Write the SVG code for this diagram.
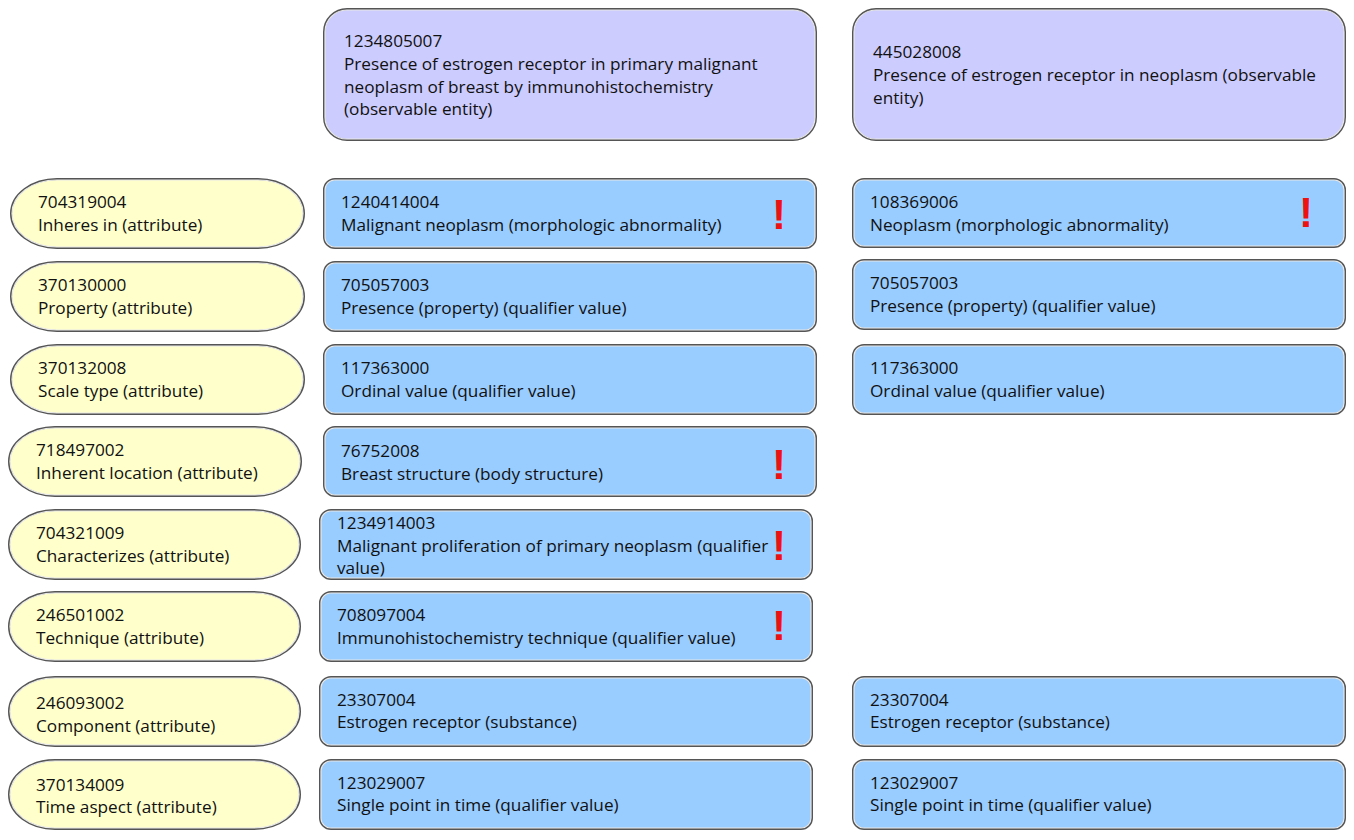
<svg xmlns="http://www.w3.org/2000/svg" width="1354" height="840" viewBox="0 0 1354 840">
<style>
text{font-family:"Open Sans","Liberation Sans",Arial,sans-serif;font-size:17.2px;fill:#111}
.o{stroke:#555;stroke-width:4}
.g{stroke:#e8e8e8;stroke-width:1.2}
.p{fill:#ccccff}.b{fill:#99ccff}.y{fill:#ffffcc}
.x{font-family:"Liberation Sans",Arial,sans-serif;font-size:42px;font-weight:bold;fill:#ee1111}
</style>
<rect width="1354" height="840" fill="#fff"/>
<g id="top1"><rect class="o p" x="325" y="10" width="490" height="129" rx="22"/><rect class="g p" x="325" y="10" width="490" height="129" rx="22"/>
<text x="344" y="47">1234805007</text><text x="344" y="70">Presence of estrogen receptor in primary malignant</text><text x="344" y="93">neoplasm of breast by immunohistochemistry</text><text x="344" y="115">(observable entity)</text></g>
<g id="top2"><rect class="o p" x="854" y="10" width="490" height="129" rx="22"/><rect class="g p" x="854" y="10" width="490" height="129" rx="22"/>
<text x="873" y="58">445028008</text><text x="873" y="81">Presence of estrogen receptor in neoplasm (observable</text><text x="873" y="104">entity)</text></g>

<g id="a1"><rect class="o y" x="12" y="180" width="291" height="67" rx="45" ry="33.5"/><rect class="g y" x="12" y="180" width="291" height="67" rx="45" ry="33.5"/><text x="38" y="208">704319004</text><text x="38" y="231">Inheres in (attribute)</text></g>
<g id="a2"><rect class="o y" x="12" y="263" width="291" height="67" rx="45" ry="33.5"/><rect class="g y" x="12" y="263" width="291" height="67" rx="45" ry="33.5"/><text x="38" y="291">370130000</text><text x="38" y="314">Property (attribute)</text></g>
<g id="a3"><rect class="o y" x="12" y="346" width="291" height="67" rx="45" ry="33.5"/><rect class="g y" x="12" y="346" width="291" height="67" rx="45" ry="33.5"/><text x="38" y="374">370132008</text><text x="38" y="397">Scale type (attribute)</text></g>
<g id="a4"><rect class="o y" x="10" y="428" width="290" height="67" rx="45" ry="33.5"/><rect class="g y" x="10" y="428" width="290" height="67" rx="45" ry="33.5"/><text x="36" y="456">718497002</text><text x="36" y="479">Inherent location (attribute)</text></g>
<g id="a5"><rect class="o y" x="10" y="511" width="289" height="67" rx="45" ry="33.5"/><rect class="g y" x="10" y="511" width="289" height="67" rx="45" ry="33.5"/><text x="36" y="539">704321009</text><text x="36" y="562">Characterizes (attribute)</text></g>
<g id="a6"><rect class="o y" x="10" y="593" width="289" height="67" rx="45" ry="33.5"/><rect class="g y" x="10" y="593" width="289" height="67" rx="45" ry="33.5"/><text x="36" y="621">246501002</text><text x="36" y="644">Technique (attribute)</text></g>
<g id="a7"><rect class="o y" x="10" y="678" width="289" height="67" rx="45" ry="33.5"/><rect class="g y" x="10" y="678" width="289" height="67" rx="45" ry="33.5"/><text x="36" y="709">246093002</text><text x="36" y="732">Component (attribute)</text></g>
<g id="a8"><rect class="o y" x="10" y="761" width="289" height="67" rx="45" ry="33.5"/><rect class="g y" x="10" y="761" width="289" height="67" rx="45" ry="33.5"/><text x="36" y="791">370134009</text><text x="36" y="813">Time aspect (attribute)</text></g>

<g id="b1"><rect class="o b" x="325" y="180" width="490" height="67" rx="10"/><rect class="g b" x="325" y="180" width="490" height="67" rx="10"/><text x="341" y="208">1240414004</text><text x="341" y="231">Malignant neoplasm (morphologic abnormality)</text><text class="x" x="779" y="229" text-anchor="middle">!</text></g>
<g id="b2"><rect class="o b" x="325" y="263" width="490" height="67" rx="10"/><rect class="g b" x="325" y="263" width="490" height="67" rx="10"/><text x="341" y="291">705057003</text><text x="341" y="314">Presence (property) (qualifier value)</text></g>
<g id="b3"><rect class="o b" x="325" y="346" width="490" height="67" rx="10"/><rect class="g b" x="325" y="346" width="490" height="67" rx="10"/><text x="341" y="374">117363000</text><text x="341" y="397">Ordinal value (qualifier value)</text></g>
<g id="b4"><rect class="o b" x="325" y="428" width="490" height="67" rx="10"/><rect class="g b" x="325" y="428" width="490" height="67" rx="10"/><text x="341" y="457">76752008</text><text x="341" y="480">Breast structure (body structure)</text><text class="x" x="779" y="479" text-anchor="middle">!</text></g>
<g id="b5"><rect class="o b" x="321" y="511" width="490" height="67" rx="10"/><rect class="g b" x="321" y="511" width="490" height="67" rx="10"/><text x="337" y="529">1234914003</text><text x="337" y="552">Malignant proliferation of primary neoplasm (qualifier</text><text x="337" y="574">value)</text><text class="x" x="779" y="560" text-anchor="middle">!</text></g>
<g id="b6"><rect class="o b" x="321" y="593" width="490" height="67" rx="10"/><rect class="g b" x="321" y="593" width="490" height="67" rx="10"/><text x="337" y="621">708097004</text><text x="337" y="644">Immunohistochemistry technique (qualifier value)</text><text class="x" x="779" y="640" text-anchor="middle">!</text></g>
<g id="b7"><rect class="o b" x="321" y="678" width="490" height="67" rx="10"/><rect class="g b" x="321" y="678" width="490" height="67" rx="10"/><text x="337" y="706">23307004</text><text x="337" y="728">Estrogen receptor (substance)</text></g>
<g id="b8"><rect class="o b" x="321" y="761" width="490" height="67" rx="10"/><rect class="g b" x="321" y="761" width="490" height="67" rx="10"/><text x="337" y="789">123029007</text><text x="337" y="811">Single point in time (qualifier value)</text></g>

<g id="c1"><rect class="o b" x="854" y="180" width="490" height="66" rx="10"/><rect class="g b" x="854" y="180" width="490" height="66" rx="10"/><text x="870" y="208">108369006</text><text x="870" y="231">Neoplasm (morphologic abnormality)</text><text class="x" x="1306" y="227" text-anchor="middle">!</text></g>
<g id="c2"><rect class="o b" x="854" y="261" width="490" height="67" rx="10"/><rect class="g b" x="854" y="261" width="490" height="67" rx="10"/><text x="870" y="289">705057003</text><text x="870" y="312">Presence (property) (qualifier value)</text></g>
<g id="c3"><rect class="o b" x="854" y="346" width="490" height="67" rx="10"/><rect class="g b" x="854" y="346" width="490" height="67" rx="10"/><text x="870" y="374">117363000</text><text x="870" y="397">Ordinal value (qualifier value)</text></g>
<g id="c7"><rect class="o b" x="854" y="678" width="490" height="67" rx="10"/><rect class="g b" x="854" y="678" width="490" height="67" rx="10"/><text x="870" y="706">23307004</text><text x="870" y="728">Estrogen receptor (substance)</text></g>
<g id="c8"><rect class="o b" x="854" y="761" width="490" height="67" rx="10"/><rect class="g b" x="854" y="761" width="490" height="67" rx="10"/><text x="870" y="789">123029007</text><text x="870" y="811">Single point in time (qualifier value)</text></g>
<g id="connectors"></g>
</svg>
